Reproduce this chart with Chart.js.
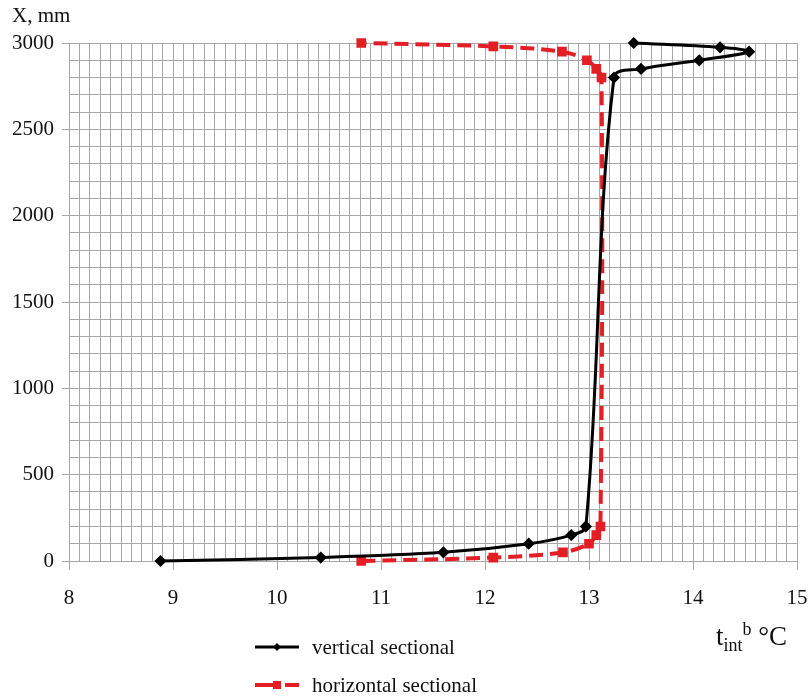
<!DOCTYPE html>
<html>
<head>
<meta charset="utf-8">
<script src="https://cdn.jsdelivr.net/npm/chart.js@4/dist/chart.umd.min.js"></script>
<style>
  html, body { margin: 0; padding: 0; background: #fff; }
  #wrap { position: relative; width: 808px; height: 697px; font-family: "Liberation Serif", "Times New Roman", serif; color: #111; }
  #c { position: absolute; left: 0; top: 0; }
  .txt { position: absolute; white-space: nowrap; line-height: 1; }
  .leg { position: absolute; left: 255px; display: flex; align-items: center; }
  .leg span { font-size: 21px; margin-left: 13px; }
</style>
</head>
<body>
<div id="wrap">
  <canvas id="c" width="808" height="697"></canvas>
  <div class="txt" style="left:12px; top:5px; font-size:21px;">X, mm</div>
  <div class="txt" style="left:716px; top:620px; font-size:27px;">t<sub style="font-size:18px;">int</sub><sup style="font-size:18px;">b</sup> °C</div>
  <div class="leg" style="top:634px;">
    <svg width="44" height="26"><line x1="0" y1="13" x2="44" y2="13" stroke="#000" stroke-width="3"/><polygon points="22,9 26,13 22,17 18,13" fill="#000"/></svg>
    <span>vertical sectional</span>
  </div>
  <div class="leg" style="top:672px;">
    <svg width="44" height="26"><line x1="0" y1="13" x2="22" y2="13" stroke="#e31e24" stroke-width="4"/><rect x="18" y="9" width="8" height="8" fill="#e31e24"/><line x1="30" y1="13" x2="44" y2="13" stroke="#e31e24" stroke-width="4"/></svg>
    <span>horizontal sectional</span>
  </div>
</div>
<script>
// Temperatures (°C) and heights X (mm)
const verticalT = [8.88, 10.42, 11.6, 12.42, 12.83, 12.97, 13.24, 13.5, 14.06, 14.54, 14.26, 13.43];
const verticalX = [0, 20, 50, 100, 150, 200, 2800, 2850, 2900, 2950, 2975, 3000];
const horizontalT = [10.81, 12.08, 12.75, 13.0, 13.07, 13.11, 13.12, 13.07, 12.98, 12.74, 12.08, 10.81];
const horizontalX = [0, 20, 50, 100, 150, 200, 2800, 2850, 2900, 2950, 2980, 3000];
const xTickLabels = [8, 9, 10, 11, 12, 13, 14, 15];
const yTickLabels = [0, 500, 1000, 1500, 2000, 2500, 3000];
const seriesNames = ["vertical sectional", "horizontal sectional"];

const toPts = (xs, ys) => xs.map((x, i) => ({ x: x, y: ys[i] }));
const isXLabel = v => xTickLabels.some(t => Math.abs(t - v) < 1e-6);
const isYLabel = v => yTickLabels.some(t => Math.abs(t - v) < 1e-6);
const gridCol = '#a8a8a8';
const tickFont = { family: '"Liberation Serif", "Times New Roman", serif', size: 21 };

new Chart(document.getElementById('c'), {
  type: 'scatter',
  data: {
    datasets: [
      {
        label: seriesNames[0],
        data: toPts(verticalT, verticalX),
        showLine: true,
        borderColor: '#000',
        backgroundColor: '#000',
        borderWidth: 3,
        pointStyle: 'rectRot',
        pointRadius: 4,
        pointHoverRadius: 4,
        tension: 0.35,
        clip: false
      },
      {
        label: seriesNames[1],
        data: toPts(horizontalT, horizontalX),
        showLine: true,
        borderColor: '#e31e24',
        backgroundColor: '#e31e24',
        borderWidth: 4,
        borderDash: [14, 7],
        pointStyle: 'rect',
        pointRadius: 4,
        pointHoverRadius: 4,
        tension: 0.35,
        clip: false
      }
    ]
  },
  options: {
    responsive: false,
    animation: false,
    events: [],
    layout: { padding: { top: 43, right: 11, left: 0, bottom: 0 } },
    plugins: { legend: { display: false }, tooltip: { enabled: false } },
    scales: {
      x: {
        type: 'linear',
        min: 8, max: 15,
        afterFit: s => { s.height = 136; s.paddingLeft = 0; s.paddingRight = 0; },
        border: { color: gridCol, width: 1 },
        grid: {
          color: gridCol, lineWidth: 1, tickLength: 9,
          tickColor: ctx => (ctx.tick && isXLabel(ctx.tick.value)) ? gridCol : 'rgba(0,0,0,0)'
        },
        ticks: {
          stepSize: 0.1, autoSkip: false, maxRotation: 0, padding: 16,
          color: '#111', font: tickFont,
          callback: v => isXLabel(v) ? String(Math.round(v)) : ''
        }
      },
      y: {
        type: 'linear',
        min: 0, max: 3000,
        afterFit: s => { s.width = 69; s.paddingTop = 0; s.paddingBottom = 0; },
        border: { color: gridCol, width: 1 },
        grid: {
          color: gridCol, lineWidth: 1, tickLength: 7,
          tickColor: ctx => (ctx.tick && isYLabel(ctx.tick.value)) ? gridCol : 'rgba(0,0,0,0)'
        },
        ticks: {
          stepSize: 100, autoSkip: false, padding: 8,
          color: '#111', font: tickFont,
          callback: v => isYLabel(v) ? String(Math.round(v)) : ''
        }
      }
    }
  }
});
</script>
</body>
</html>
